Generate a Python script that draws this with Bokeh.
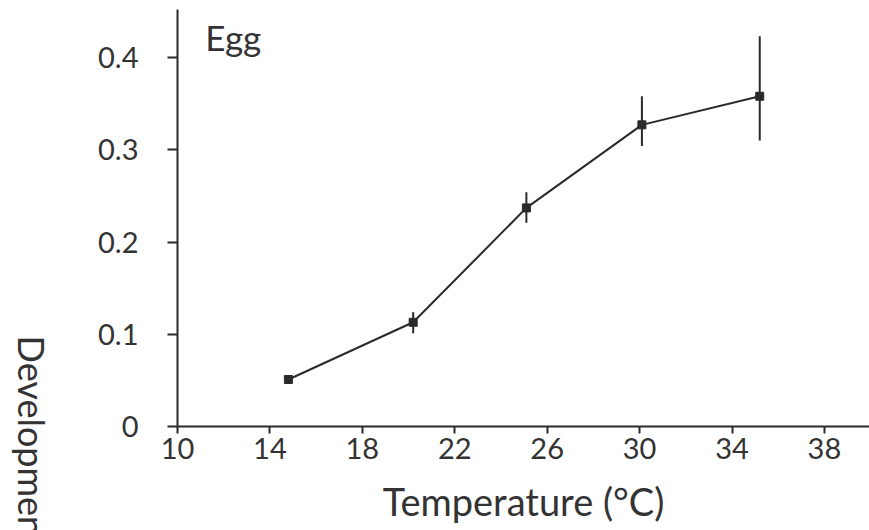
import math
from bokeh.plotting import figure
from bokeh.models import FixedTicker, CustomJSTickFormatter, Label, Range1d, ColumnDataSource
from bokeh.embed import file_html
from bokeh.resources import INLINE

# --- data ---
temps = [14.8, 20.2, 25.1, 30.1, 35.2]
rates = [0.051, 0.113, 0.237, 0.327, 0.358]
lower = [0.051, 0.101, 0.221, 0.304, 0.310]
upper = [0.051, 0.124, 0.254, 0.358, 0.423]

x_ticks = [10, 14, 18, 22, 26, 30, 34, 38]
y_ticks = [0, 0.1, 0.2, 0.3, 0.4]

title_text = "Egg"
x_label = "Temperature (°C)"
y_label = "Development rate"

FONT = "Lato"
INK = "#2a2a2a"
TXT = "#333333"

src = ColumnDataSource(dict(t=temps, r=rates, lo=lower, hi=upper))

# the frame covers the whole canvas; axes are pinned at x=10 and y=0
p = figure(width=869, height=530, output_backend="svg", toolbar_location=None,
           x_range=Range1d(2.34, 39.95), y_range=Range1d(-0.1127, 0.4618),
           min_border_left=0, min_border_right=0, min_border_top=0, min_border_bottom=0)
p.outline_line_color = None
p.grid.visible = False
p.background_fill_color = "white"
p.border_fill_color = "white"

for ax in (p.xaxis[0], p.yaxis[0]):
    ax.axis_line_color = INK
    ax.axis_line_width = 2
    ax.major_tick_line_color = INK
    ax.major_tick_line_width = 2
    ax.major_tick_in = 0
    ax.minor_tick_line_color = None
    ax.major_label_text_font = FONT
    ax.major_label_text_font_size = "29px"
    ax.major_label_text_color = TXT

xa = p.xaxis[0]
xa.fixed_location = 0
xa.bounds = (10, 39.95)
xa.ticker = FixedTicker(ticks=x_ticks)
xa.major_tick_out = 7
xa.major_label_standoff = 4
xa.axis_label = x_label
xa.axis_label_text_font = FONT
xa.axis_label_text_font_size = "38px"
xa.axis_label_text_font_style = "normal"
xa.axis_label_text_color = TXT
xa.axis_label_standoff = 16

ya = p.yaxis[0]
ya.fixed_location = 10
ya.bounds = (0, 0.452)
ya.ticker = FixedTicker(ticks=y_ticks)
ya.formatter = CustomJSTickFormatter(code="return tick === 0 ? '0' : tick.toFixed(1);")
ya.major_tick_out = 10
ya.major_label_standoff = 29

# error bars
p.segment(x0="t", y0="lo", x1="t", y1="hi", source=src, line_color=INK, line_width=2)
# line + markers
p.line(x="t", y="r", source=src, line_color=INK, line_width=2)
p.scatter(x="t", y="r", source=src, marker="square", size=8, fill_color=INK, line_color=INK)

# panel title
p.add_layout(Label(x=11.2, y=0.4227, text=title_text,
                   text_font=FONT, text_font_size="35px", text_color=TXT,
                   text_align="left", text_baseline="alphabetic"))

# y label (rotated clockwise, reading top to bottom; runs off the bottom as in the source)
p.add_layout(Label(x=3.72, y=0.0986, text=y_label,
                   angle=-math.pi / 2, text_font=FONT, text_font_size="36px",
                   text_color=TXT, text_align="left", text_baseline="alphabetic"))

open("out.html", "w").write(file_html(p, INLINE))
